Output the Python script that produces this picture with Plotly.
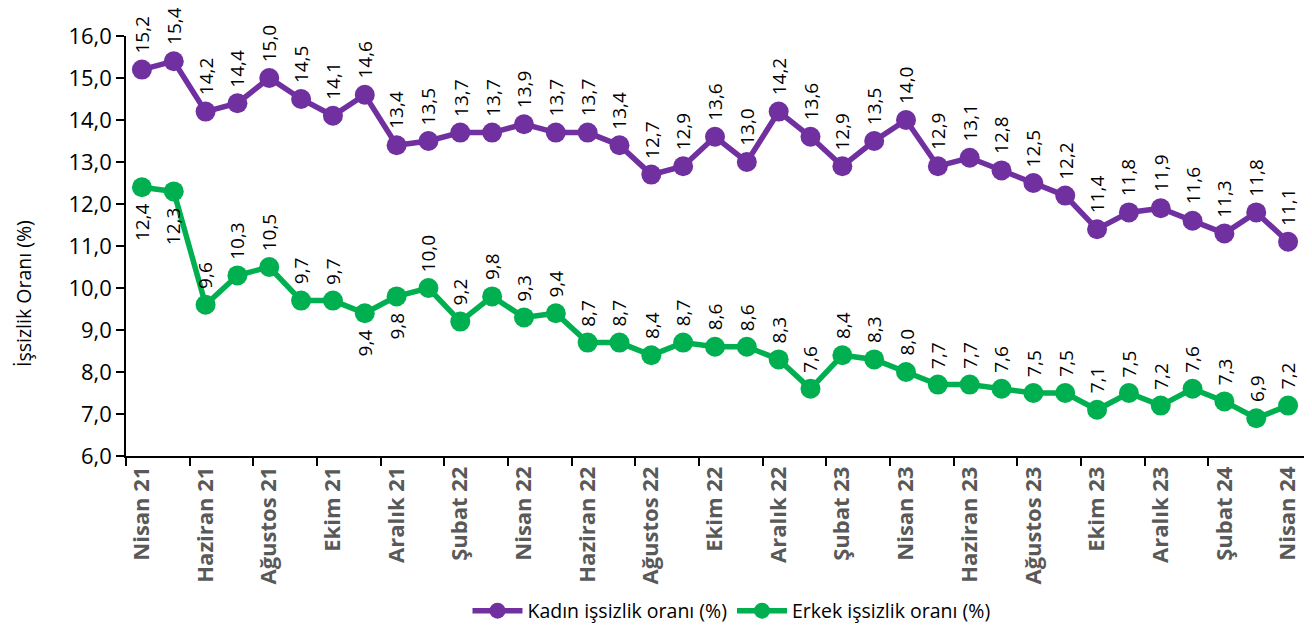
import plotly.graph_objects as go

months = ["Nisan 21", "Mayıs 21", "Haziran 21", "Temmuz 21", "Ağustos 21", "Eylül 21", "Ekim 21", "Kasım 21",
          "Aralık 21", "Ocak 22", "Şubat 22", "Mart 22", "Nisan 22", "Mayıs 22", "Haziran 22", "Temmuz 22",
          "Ağustos 22", "Eylül 22", "Ekim 22", "Kasım 22", "Aralık 22", "Ocak 23", "Şubat 23", "Mart 23",
          "Nisan 23", "Mayıs 23", "Haziran 23", "Temmuz 23", "Ağustos 23", "Eylül 23", "Ekim 23", "Kasım 23",
          "Aralık 23", "Ocak 24", "Şubat 24", "Mart 24", "Nisan 24"]

kadin = [15.2, 15.4, 14.2, 14.4, 15.0, 14.5, 14.1, 14.6, 13.4, 13.5, 13.7, 13.7, 13.9, 13.7, 13.7, 13.4,
         12.7, 12.9, 13.6, 13.0, 14.2, 13.6, 12.9, 13.5, 14.0, 12.9, 13.1, 12.8, 12.5, 12.2, 11.4, 11.8,
         11.9, 11.6, 11.3, 11.8, 11.1]

erkek = [12.4, 12.3, 9.6, 10.3, 10.5, 9.7, 9.7, 9.4, 9.8, 10.0, 9.2, 9.8, 9.3, 9.4, 8.7, 8.7,
         8.4, 8.7, 8.6, 8.6, 8.3, 7.6, 8.4, 8.3, 8.0, 7.7, 7.7, 7.6, 7.5, 7.5, 7.1, 7.5,
         7.2, 7.6, 7.3, 6.9, 7.2]

# indices of Erkek labels placed below the point
erkek_below = [0, 1, 7, 8]

PURPLE = "#7030A0"
GREEN = "#00B050"
FONT = "Open Sans"

x = list(range(len(months)))

fig = go.Figure()
fig.add_trace(go.Scatter(x=x, y=kadin, mode="lines+markers", name="Kadın işsizlik oranı (%)",
                         line=dict(color=PURPLE, width=5.5), marker=dict(color=PURPLE, size=20),
                         cliponaxis=False))
fig.add_trace(go.Scatter(x=x, y=erkek, mode="lines+markers", name="Erkek işsizlik oranı (%)",
                         line=dict(color=GREEN, width=5.5), marker=dict(color=GREEN, size=20),
                         cliponaxis=False))

def fmt(v):
    return f"{v:.1f}".replace(".", ",")

annotations = []
for i, v in enumerate(kadin):
    annotations.append(dict(x=i, y=v, xref="x", yref="y", text=fmt(v), showarrow=False,
                            textangle=-90, yanchor="bottom", xanchor="center", yshift=14,
                            font=dict(family=FONT, size=19, color="black")))
for i, v in enumerate(erkek):
    below = i in erkek_below
    annotations.append(dict(x=i, y=v, xref="x", yref="y", text=fmt(v), showarrow=False,
                            textangle=-90, yanchor="top" if below else "bottom", xanchor="center",
                            yshift=-14 if below else 14,
                            font=dict(family=FONT, size=19, color="black")))
annotations.append(dict(x=-0.0865, y=0.386, xref="paper", yref="paper", text="İşsizlik Oranı (%)",
                        showarrow=False, textangle=-90, xanchor="center", yanchor="middle",
                        font=dict(family=FONT, size=19.5, color="black")))

tickvals = x[::2]
ticktext = [f"<b>{months[i]}</b>" for i in tickvals]

fig.update_layout(
    width=1304, height=624,
    margin=dict(l=118, r=8, t=28, b=176, autoexpand=False),
    plot_bgcolor="white", paper_bgcolor="white",
    separators=",.",
    showlegend=True,
    legend=dict(orientation="h", x=0.514, y=-0.369, xanchor="center", yanchor="middle",
                font=dict(family=FONT, size=19.5, color="black"), itemwidth=50,
                tracegroupgap=0),
    annotations=annotations,
    xaxis=dict(range=[-0.5, 36.5], tickmode="array", tickvals=tickvals, ticktext=ticktext,
               tickangle=-90, ticks="", showline=True, linecolor="black", linewidth=1.5,
               showgrid=False, zeroline=False, automargin=False,
               tickfont=dict(family=FONT, size=22, color="#595959"),
               minor=dict(tickmode="array", tickvals=[i - 0.5 for i in tickvals[:-1]],
                          ticks="outside", ticklen=8, tickcolor="black", tickwidth=1.5, showgrid=False)),
    yaxis=dict(range=[6, 16], dtick=1, tickformat=".1f", ticks="outside", ticklen=8,
               tickcolor="black", tickwidth=1.5, showline=True, linecolor="black", linewidth=1.5,
               showgrid=False, zeroline=False, automargin=False,
               tickfont=dict(family=FONT, size=22, color="black")),
)

fig.write_html("out.html")
